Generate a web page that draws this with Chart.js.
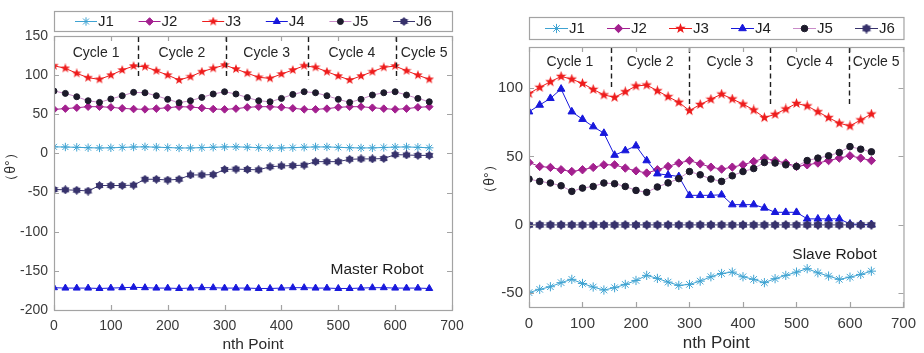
<!DOCTYPE html>
<html>
<head>
<meta charset="utf-8">
<script src="https://cdn.jsdelivr.net/npm/chart.js@4.4.1/dist/chart.umd.min.js"></script>
<style>
  html, body { margin: 0; padding: 0; background: #ffffff; }
  #wrap { position: relative; width: 924px; height: 353px; overflow: hidden; background: #ffffff; }
  #master { position: absolute; left: 0; top: 0; }
  #slave { position: absolute; left: 462px; top: 0; }
</style>
</head>
<body>
<div id="wrap">
  <canvas id="master" width="480" height="353"></canvas>
  <canvas id="slave" width="462" height="353"></canvas>
</div>
<script>
// ---- joint names, ticks and cycle annotations ----
const SERIES_NAMES = ['J1', 'J2', 'J3', 'J4', 'J5', 'J6'];
const CYCLE_LABELS = ['Cycle 1', 'Cycle 2', 'Cycle 3', 'Cycle 4', 'Cycle 5'];
const X_TICKS = [0, 100, 200, 300, 400, 500, 600, 700];
const MASTER_Y_TICKS = [-200, -150, -100, -50, 0, 50, 100, 150];
const SLAVE_Y_TICKS = [-50, 0, 50, 100];

// ---- master robot joint angles (deg) ----
const MASTER_X = [0, 20, 40, 60, 80, 100, 120, 140, 160, 180, 200, 220, 240, 260, 280, 300, 320,
  340, 360, 380, 400, 420, 440, 460, 480, 500, 520, 540, 560, 580, 600, 620, 640, 660];
const MASTER_J1 = [8.4, 8.2, 7.8, 7.3, 7.0, 7.2, 7.7, 8.2, 8.4, 8.0, 7.5, 7.0, 7.0, 7.4, 7.9, 8.3, 8.4,
  8.0, 7.4, 7.0, 7.0, 7.4, 7.9, 8.3, 8.3, 7.8, 7.3, 7.0, 7.1, 7.6, 8.1, 8.3, 7.8, 7.2];
const MASTER_J2 = [56.3, 57.2, 58.4, 59.7, 59.7, 58.9, 57.6, 56.7, 56.3, 57.2, 58.4, 59.7, 59.3, 58.0, 56.7, 56.3, 57.2,
  58.9, 59.7, 59.7, 58.9, 57.6, 56.3, 56.3, 57.2, 58.9, 59.7, 59.7, 58.4, 57.2, 56.3, 57.2, 58.9, 59.7];
const MASTER_J3 = [112, 108.7, 102.3, 96.7, 94.6, 100, 106.5, 111.6, 110.8, 105.6, 100, 93.8, 98, 104.4, 108.7, 112.9, 107.8,
  102.5, 97.2, 95.9, 101.4, 106.5, 112, 110, 104.4, 98.9, 93.8, 98.9, 104.4, 110, 111.6, 105.6, 100, 94.6];
const MASTER_J4 = [-171.5, -172, -172, -172, -172.5, -172, -171.5, -171, -171.5, -172, -172, -172.5, -172, -171.5, -171.5, -172, -172,
  -172, -172.5, -172.5, -172, -171.5, -171.5, -172, -172, -172.5, -172.5, -172, -171.5, -171.5, -172, -172, -172, -172.5];
const MASTER_J5 = [79.7, 76.7, 72.4, 67.3, 65.2, 69.5, 73.7, 78, 77.5, 73.7, 69.1, 64.8, 67.3, 71.6, 75.9, 78.8, 75.9,
  71.4, 67.3, 66, 70.3, 75.4, 78.8, 77.5, 73.7, 69.1, 65.2, 69.1, 74.6, 77.5, 78.8, 74.6, 70.3, 66];
const MASTER_J6 = [-46, -46.5, -47, -48, -41, -41, -41, -40.5, -33, -33, -34, -33, -27.5, -27.5, -27, -20.5, -20,
  -20.5, -21, -17, -16, -15.5, -15, -10.5, -10.5, -10.5, -7.5, -7, -7, -6.5, -1.5, -2, -2.5, -2.5];

// ---- slave robot joint angles (deg) ----
const SLAVE_X = [0, 20, 40, 60, 80, 100, 120, 140, 160, 180, 200, 220, 240, 260, 280, 300, 320,
  340, 360, 380, 400, 420, 440, 460, 480, 500, 520, 540, 560, 580, 600, 620, 640];
const SLAVE_J1 = [-49.5, -47.1, -45.2, -42.2, -39.8, -42.8, -45.4, -47.6, -45.9, -43.5, -40.6, -36.9, -39.1, -41.8, -44.2, -43.5, -41.1,
  -37.9, -35.5, -34.5, -37.9, -39.8, -42.2, -39.3, -36.9, -34.5, -32, -35, -37.4, -39.8, -38.2, -36.2, -33.8];
const SLAVE_J2 = [45.6, 42.7, 42, 40.3, 39, 40.3, 42, 43.9, 43.9, 41.5, 39.5, 37.9, 40.3, 42.7, 45.2, 47, 44.6,
  42.2, 40.8, 42.2, 43.9, 46.3, 48.8, 47, 45.2, 42.7, 43.9, 45.2, 47, 48.8, 50.5, 48.8, 47];
const SLAVE_J3 = [96, 100.5, 104.6, 108.5, 106.5, 103.4, 99, 95, 93.2, 97.3, 101.5, 102.2, 98, 93.7, 89.6, 83.5, 88,
  91.8, 95.6, 92, 88.3, 84, 78.4, 80.8, 84.7, 88.8, 86.9, 82.7, 78.4, 74.3, 72.3, 76.7, 81];
const SLAVE_J4 = [82.7, 87.6, 92.5, 99.3, 82.7, 77.2, 71.8, 67, 51, 54.3, 57.8, 47, 37.4, 36.4, 35.4, 21.6, 21.6,
  21.6, 22, 14.8, 14.8, 14.8, 12.4, 9.2, 9.2, 9.2, 4.4, 4.4, 4.4, 4.4, 0.7, 0.3, 0.3];
const SLAVE_J5 = [33.5, 31.8, 30.6, 28.6, 24.5, 26.9, 28.1, 30.6, 30.1, 28.1, 25.2, 23.8, 27.7, 30.7, 33.8, 39, 36.6,
  33.5, 31.8, 35.9, 39, 41.2, 45.6, 45.2, 43.9, 42.7, 47, 48.8, 50.5, 52.9, 57.2, 55.3, 53.4];
const SLAVE_J6 = [0, 0, 0, 0, 0, 0, 0, 0, 0, 0, 0, 0, 0, 0, 0, 0, 0,
  0, 0, 0, 0, 0, 0, 0, 0, 0, 0, 0, 0, 0, 0, 0, 0];

// cycle boundaries (x) and the angle where each dashed divider stops
const MASTER_CYCLE_BOUNDS = [148, 302, 446, 602];
const MASTER_CYCLE_ENDS = [95, 95, 94, 94];
const SLAVE_CYCLE_BOUNDS = [153, 300, 451, 598];
const SLAVE_CYCLE_ENDS = [100, 85, 87, 87];

// ---- styling ----
const FONT = '"Liberation Sans", Arial, Helvetica, sans-serif';
const AXIS_GRAY = '#a3a3a3';
const TICK_TEXT = '#3a3a3a';
const Y_TITLE = '（θ°）';

// filled n-point star drawn onto a small canvas, used as a marker
function starMarker(size, color, points, inner) {
  const c = document.createElement('canvas');
  c.width = size; c.height = size;
  const g = c.getContext('2d');
  const r = size / 2;
  g.beginPath();
  for (let i = 0; i < points * 2; i++) {
    const a = -Math.PI / 2 + i * Math.PI / points;
    const rr = i % 2 ? r * inner : r;
    g.lineTo(r + rr * Math.cos(a), r + rr * Math.sin(a));
  }
  g.closePath();
  g.fillStyle = color;
  g.fill();
  return c;
}

function seriesStyles(scale) {
  return [
    { line: '#3fa3d2', fill: '#3fa3d2', stroke: '#3fa3d2', pointStyle: 'star', radius: 4.2 * scale, pw: 1 },
    { line: '#a3208f', fill: '#a3208f', stroke: '#a3208f', pointStyle: 'rectRot', radius: 3.8 * scale, pw: 1 },
    { line: '#ee1c1c', fill: '#ee1c1c', stroke: '#ee1c1c', pointStyle: starMarker(Math.round(10 * scale), '#ee1c1c', 5, 0.42), radius: 4 * scale, pw: 1 },
    { line: '#1818dc', fill: '#1818dc', stroke: '#1818dc', pointStyle: 'triangle', radius: 4 * scale, pw: 1 },
    { line: '#c98bc9', fill: '#1d1b2b', stroke: '#1d1b2b', pointStyle: 'circle', radius: 3 * scale, pw: 1 },
    { line: '#37326c', fill: '#37326c', stroke: '#37326c', pointStyle: starMarker(Math.round(9 * scale), '#37326c', 6, 0.72), radius: 4 * scale, pw: 1 }
  ];
}

function buildDatasets(xs, series, styles) {
  return series.map((vals, i) => ({
    label: SERIES_NAMES[i],
    data: xs.map((x, k) => ({ x: x, y: vals[k] })),
    borderColor: styles[i].line,
    borderWidth: 1,
    backgroundColor: styles[i].fill,
    pointBackgroundColor: styles[i].fill,
    pointBorderColor: styles[i].stroke,
    pointBorderWidth: styles[i].pw,
    pointStyle: styles[i].pointStyle,
    pointRadius: styles[i].radius,
    tension: 0,
    fill: false,
    order: SERIES_NAMES.length - i
  }));
}

// axes box, inward ticks, MATLAB-style legend, cycle dividers and labels
const frame = {
  id: 'frame',
  afterDatasetsDraw(chart, args, o) {
    const { ctx, chartArea: a, scales: { x, y } } = chart;
    ctx.save();
    ctx.strokeStyle = '#1e1e1e';
    ctx.lineWidth = 1.4;
    ctx.setLineDash([5, 3.5]);
    o.cycleBounds.forEach((bx, i) => {
      const px = Math.round(x.getPixelForValue(bx)) + 0.5;
      ctx.beginPath();
      ctx.moveTo(px, a.top + 1);
      ctx.lineTo(px, y.getPixelForValue(o.cycleEnds[i]));
      ctx.stroke();
    });
    ctx.setLineDash([]);
    const edges = [x.min].concat(o.cycleBounds, [x.max]);
    ctx.fillStyle = '#262626';
    ctx.font = o.cycleFont + 'px ' + FONT;
    ctx.textAlign = 'center';
    ctx.textBaseline = 'middle';
    CYCLE_LABELS.forEach((t, i) => {
      const cx = (x.getPixelForValue(edges[i]) + x.getPixelForValue(edges[i + 1])) / 2;
      ctx.fillText(t, cx, a.top + o.cycleLabelDy);
    });
    // robot name
    ctx.fillStyle = '#1e1e1e';
    ctx.font = o.nameFont + 'px ' + FONT;
    ctx.textAlign = 'right';
    ctx.fillText(o.name, x.getPixelForValue(o.nameAt[0]), y.getPixelForValue(o.nameAt[1]));
    ctx.restore();
  },
  afterDraw(chart, args, o) {
    const { ctx, chartArea: a, scales: { x, y } } = chart;
    ctx.save();
    // box
    ctx.strokeStyle = AXIS_GRAY;
    ctx.lineWidth = 1.2;
    ctx.strokeRect(a.left + 0.5, a.top + 0.5, a.right - a.left, a.bottom - a.top);
    // inward ticks on all four sides
    ctx.beginPath();
    const tl = 5;
    x.ticks.forEach(t => {
      const px = Math.round(x.getPixelForValue(t.value)) + 0.5;
      ctx.moveTo(px, a.bottom); ctx.lineTo(px, a.bottom - tl);
      ctx.moveTo(px, a.top); ctx.lineTo(px, a.top + tl);
    });
    y.ticks.forEach(t => {
      const py = Math.round(y.getPixelForValue(t.value)) + 0.5;
      ctx.moveTo(a.left, py); ctx.lineTo(a.left + tl, py);
      ctx.moveTo(a.right, py); ctx.lineTo(a.right - tl, py);
    });
    ctx.stroke();

    // axis titles
    ctx.fillStyle = '#2a2a2a';
    ctx.font = o.xTitleFont + 'px ' + FONT;
    ctx.textAlign = 'center';
    ctx.textBaseline = 'middle';
    ctx.fillText('nth Point', (a.left + a.right) / 2, o.xTitleY);
    ctx.save();
    ctx.translate(o.yTitleX, (a.top + a.bottom) / 2 + o.yTitleDy);
    ctx.rotate(-Math.PI / 2);
    ctx.font = o.yTitleFont + 'px ' + FONT;
    ctx.fillText(Y_TITLE, 0, 0);
    ctx.restore();

    // legend box
    const lb = o.legend;
    ctx.fillStyle = '#ffffff';
    ctx.fillRect(a.left, lb.top, a.right - a.left, lb.height);
    ctx.strokeStyle = AXIS_GRAY;
    ctx.lineWidth = 1.2;
    ctx.strokeRect(a.left + 0.5, lb.top + 0.5, a.right - a.left, lb.height);
    const cy = lb.top + lb.height / 2 + 0.5;
    ctx.font = lb.font + 'px ' + FONT;
    ctx.textAlign = 'left';
    ctx.textBaseline = 'middle';
    chart.data.datasets.forEach((ds, i) => {
      const x0 = a.left + lb.inset + i * lb.step;
      ctx.strokeStyle = ds.borderColor;
      ctx.lineWidth = 1;
      ctx.beginPath();
      ctx.moveTo(x0, cy); ctx.lineTo(x0 + lb.lineLen, cy);
      ctx.stroke();
      ctx.fillStyle = ds.pointBackgroundColor;
      ctx.strokeStyle = ds.pointBorderColor;
      ctx.lineWidth = ds.pointBorderWidth;
      Chart.helpers.drawPoint(ctx, { pointStyle: ds.pointStyle, radius: ds.pointRadius, rotation: 0, borderWidth: ds.pointBorderWidth }, x0 + lb.lineLen / 2, cy);
      ctx.fillStyle = '#1e1e1e';
      ctx.fillText(ds.label, x0 + lb.lineLen + 1, cy + 0.5);
    });
    ctx.restore();
  }
};

function makeChart(id, xs, series, cfg) {
  const styles = seriesStyles(cfg.markerScale);
  return new Chart(document.getElementById(id), {
    type: 'line',
    data: { datasets: buildDatasets(xs, series, styles) },
    options: {
      responsive: false,
      animation: false,
      events: [],
      layout: { padding: { left: 0, right: cfg.padRight, top: cfg.padTop, bottom: 0 } },
      plugins: {
        legend: { display: false },
        tooltip: { enabled: false },
        frame: cfg.frame
      },
      scales: {
        x: {
          type: 'linear',
          min: 0, max: 700,
          afterBuildTicks: s => { s.ticks = X_TICKS.map(v => ({ value: v })); },
          afterFit: s => { s.height = cfg.xAxisHeight; },
          grid: { display: false, drawTicks: false },
          border: { display: false },
          ticks: { font: { family: FONT, size: cfg.tickFont }, color: TICK_TEXT, padding: cfg.xTickPad, maxRotation: 0, autoSkip: false }
        },
        y: {
          type: 'linear',
          min: cfg.yMin, max: cfg.yMax,
          afterBuildTicks: s => { s.ticks = cfg.yTicks.map(v => ({ value: v })); },
          afterFit: s => { s.width = cfg.yAxisWidth; },
          grid: { display: false, drawTicks: false },
          border: { display: false },
          ticks: { font: { family: FONT, size: cfg.tickFont }, color: TICK_TEXT, padding: cfg.yTickPad, autoSkip: false }
        }
      }
    },
    plugins: [frame]
  });
}

makeChart('master', MASTER_X, [MASTER_J1, MASTER_J2, MASTER_J3, MASTER_J4, MASTER_J5, MASTER_J6], {
  markerScale: 1,
  padRight: 28, padTop: 36,
  xAxisHeight: 43, yAxisWidth: 54,
  tickFont: 14, xTickPad: 8, yTickPad: 6,
  yMin: -200, yMax: 150, yTicks: MASTER_Y_TICKS,
  frame: {
    cycleBounds: MASTER_CYCLE_BOUNDS, cycleEnds: MASTER_CYCLE_ENDS,
    cycleFont: 14, cycleLabelDy: 17,
    name: 'Master Robot', nameAt: [650, -148], nameFont: 15.5,
    xTitleFont: 15.5, xTitleY: 345, yTitleX: 11, yTitleDy: -6, yTitleFont: 14,
    legend: { top: 11, height: 20, inset: 21, step: 63.6, lineLen: 22, font: 15 }
  }
});

makeChart('slave', SLAVE_X, [SLAVE_J1, SLAVE_J2, SLAVE_J3, SLAVE_J4, SLAVE_J5, SLAVE_J6], {
  markerScale: 1.1,
  padRight: 13, padTop: 47,
  xAxisHeight: 46, yAxisWidth: 67,
  tickFont: 15, xTickPad: 8, yTickPad: 6,
  yMin: -60, yMax: 130, yTicks: SLAVE_Y_TICKS,
  frame: {
    cycleBounds: SLAVE_CYCLE_BOUNDS, cycleEnds: SLAVE_CYCLE_ENDS,
    cycleFont: 14, cycleLabelDy: 15,
    name: 'Slave Robot', nameAt: [650, -21.6], nameFont: 15.5,
    xTitleFont: 17, xTitleY: 343, yTitleX: 28, yTitleDy: 2, yTitleFont: 14,
    legend: { top: 17, height: 22, inset: 16, step: 62, lineLen: 23, font: 15 }
  }
});
</script>
</body>
</html>
